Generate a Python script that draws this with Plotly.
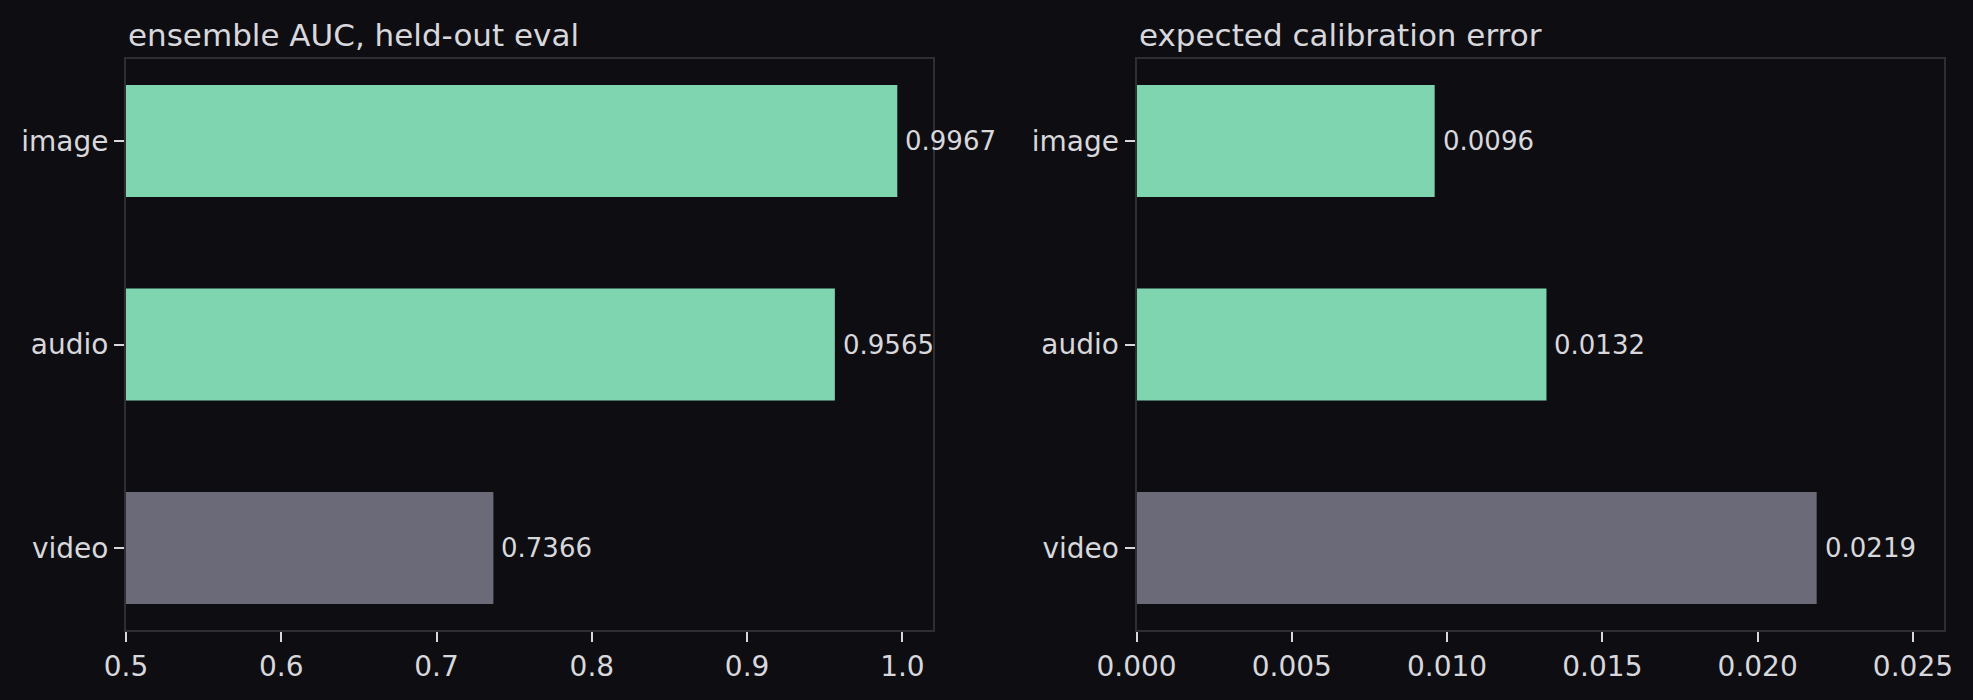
import plotly.graph_objects as go
from plotly.subplots import make_subplots

# data
modalities = ["video", "audio", "image"]
auc = [0.7366, 0.9565, 0.9967]
ece = [0.0219, 0.0132, 0.0096]
bar_colors = ["#6b6a78", "#7ed5b0", "#7ed5b0"]

bg = "#0e0e12"
txt = "#d8d8dc"
spine = "#2e2e35"
font = "DejaVu Sans"

fig = make_subplots(rows=1, cols=2, horizontal_spacing=0.1117)

for col, vals in [(1, auc), (2, ece)]:
    fig.add_trace(go.Bar(
        x=vals, y=modalities, orientation="h",
        marker=dict(color=bar_colors, line=dict(width=0)),
        width=0.55,
        showlegend=False,
    ), row=1, col=col)
    # value labels just past the bar ends
    xr = "x" if col == 1 else "x2"
    yr = "y" if col == 1 else "y2"
    for m, v in zip(modalities, vals):
        fig.add_annotation(x=v, y=m, xref=xr, yref=yr, text=f"{v:.4f}",
                           xanchor="left", yanchor="middle", xshift=6,
                           showarrow=False,
                           font=dict(family=font, size=26, color=txt))

fig.update_xaxes(showgrid=False, zeroline=False, showline=True, mirror=True,
                 linecolor=spine, linewidth=2, ticks="outside", ticklen=10,
                 tickwidth=2, tickcolor=txt,
                 tickfont=dict(family=font, size=28, color=txt))
fig.update_yaxes(showgrid=False, zeroline=False, showline=True, mirror=True,
                 linecolor=spine, linewidth=2, ticks="outside", ticklen=10,
                 tickwidth=2, tickcolor=txt, range=[-0.4025, 2.4025],
                 tickfont=dict(family=font, size=28, color=txt))

fig.update_xaxes(range=[0.5, 1.02], tickvals=[0.5, 0.6, 0.7, 0.8, 0.9, 1.0],
                 ticktext=["0.5", "0.6", "0.7", "0.8", "0.9", "1.0"], row=1, col=1)
fig.update_xaxes(range=[0, 0.026], tickvals=[0, 0.005, 0.01, 0.015, 0.02, 0.025],
                 ticktext=["0.000", "0.005", "0.010", "0.015", "0.020", "0.025"], row=1, col=2)

titles = ["ensemble AUC, held-out eval", "expected calibration error"]
for i, t in enumerate(titles):
    xref = "x domain" if i == 0 else "x2 domain"
    fig.add_annotation(text=t, xref=xref, yref="paper", x=0, y=1, yshift=4,
                       xanchor="left", yanchor="bottom", showarrow=False,
                       font=dict(family=font, size=31, color=txt))

fig.update_layout(
    width=1973, height=700,
    paper_bgcolor=bg, plot_bgcolor=bg,
    margin=dict(l=126, r=29, t=59, b=70),
)

fig.write_html("out.html", config={"displayModeBar": False},
               post_script="document.body.style.margin='0';"
                           "document.body.style.background='#0e0e12';")
